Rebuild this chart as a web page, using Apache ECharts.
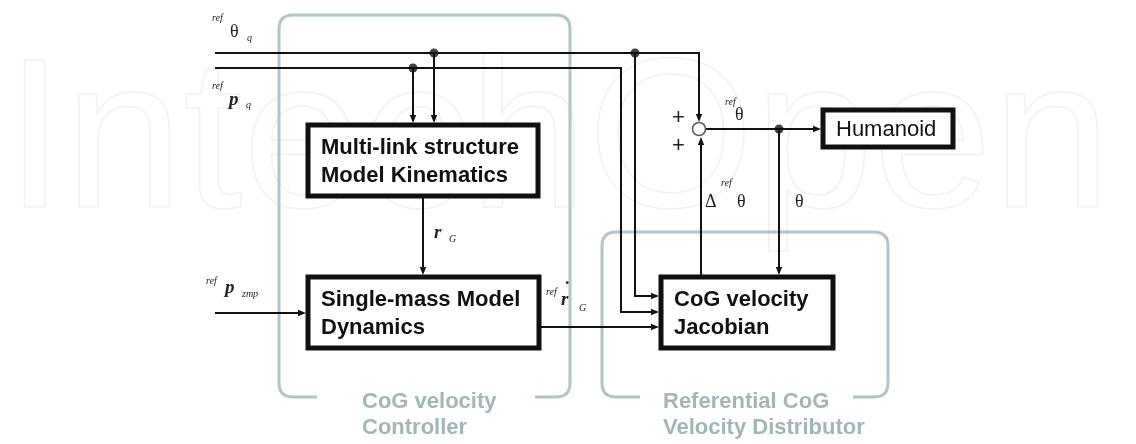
<!DOCTYPE html>
<html><head><meta charset="utf-8">
<script src="https://cdn.jsdelivr.net/npm/echarts@6.0.0/dist/echarts.min.js"></script>
<style>html,body{margin:0;padding:0;background:#fff}#c{width:1136px;height:444px}</style>
</head><body><div id="c"></div>
<script>
// ---------- diagram data (diagram coordinates, y grows downward) ----------
const blockLabels = ['Multi-link structure\nModel Kinematics', 'Single-mass Model\nDynamics', 'CoG velocity\nJacobian', 'Humanoid'];
const blockLeft   = [308, 308, 661, 823];
const blockTop    = [125, 277, 277, 110];
const blockRight  = [538, 539, 833, 953];
const blockBottom = [196, 348, 348, 147];

const frameTitles = ['CoG velocity\nController', 'Referential CoG\nVelocity Distributor'];
const frameLeft   = [279, 602];
const frameTop    = [15, 232];
const frameRight  = [570, 888];
const frameBottom = [397, 397];
const frameGapStart = [317, 640];
const frameGapEnd   = [535, 853];
const frameTitleX   = [362, 663];

// wires: polylines ending in an arrow head
const wirePaths = [
  [[215, 53], [699, 53], [699, 122]],            // ref theta_q -> summing point
  [[215, 68], [621, 68], [621, 312], [659, 312]],// ref p_q -> Jacobian
  [[434, 53], [434, 123]],                       // ref theta_q -> Kinematics
  [[413, 68], [413, 123]],                       // ref p_q -> Kinematics
  [[635, 53], [635, 296], [659, 296]],           // ref theta_q -> Jacobian
  [[215, 313], [306, 313]],                      // ref p_zmp -> Dynamics
  [[423, 198], [423, 275]],                      // r_G
  [[541, 327], [659, 327]],                      // ref r_G dot -> Jacobian
  [[701, 275], [701, 137]],                      // delta ref theta -> summing point
  [[706, 129], [821, 129]],                      // ref theta -> Humanoid
  [[779, 129], [779, 275]]                       // theta -> Jacobian
];
const junctionPoints = [[434, 53], [413, 68], [635, 53], [779, 129]];
const summingPoints  = [[699, 129]];

// math labels: [text, x, y, kind]
const labelPieces = [
  ['ref', 212, 18, 'sup'], ['θ', 230, 32, 'greek'], ['q', 247, 38, 'sub'],
  ['ref', 212, 86, 'sup'], ['p', 229, 100, 'var'], ['q', 246, 105, 'sub'],
  ['ref', 206, 281, 'sup'], ['p', 225, 288, 'var'], ['zmp', 242, 294, 'sub'],
  ['r', 434, 233, 'var'], ['G', 449, 239, 'sub'],
  ['ref', 546, 292, 'sup'], ['r', 561, 300, 'var'], ['˙', 563, 290, 'var'], ['G', 579, 308, 'sub'],
  ['ref', 725, 102, 'sup'], ['θ', 735, 115, 'greek'],
  ['Δ', 705, 202, 'greek'], ['ref', 721, 183, 'sup'], ['θ', 737, 202, 'greek'],
  ['θ', 795, 202, 'greek'],
  ['+', 672, 118, 'plus'], ['+', 672, 146, 'plus']
];

// ---------- styles ----------
const INK = '#111';
const FRAME = '#b3c5c6';
const FRAME_TEXT = '#a2b6ba';
const pieceFont = {
  sup:   'italic 10px "Liberation Serif", serif',
  sub:   'italic 10px "Liberation Serif", serif',
  greek: '18px "Liberation Serif", serif',
  var:   'italic bold 19px "Liberation Serif", serif',
  plus:  '22px "Liberation Sans", Arial, sans-serif'
};
const regularBlocks = ['Humanoid'];

const chart = echarts.init(document.getElementById('c'), null, {renderer: 'canvas'});

const option = {
  animation: false,
  backgroundColor: '#fff',
  grid: {left: 0, right: 0, top: 0, bottom: 0},
  xAxis: {type: 'value', min: 0, max: 1136, show: false},
  yAxis: {type: 'value', min: 0, max: 444, inverse: true, show: false},
  graphic: [{
    type: 'text', left: 4, top: 40, silent: true, z: -10,
    style: {text: 'IntechOpen', font: '214px "Liberation Sans", Arial, sans-serif',
            fill: 'rgba(0,0,0,0)', stroke: '#f1f1f1', lineWidth: 1.5}
  }],
  series: [
    { // grey group frames
      type: 'custom', coordinateSystem: 'cartesian2d', silent: true, clip: false, z: 1,
      data: frameTitles.map((_, i) => [i]),
      renderItem(params, api) {
        const i = params.dataIndex;
        const [l, t] = api.coord([frameLeft[i], frameTop[i]]);
        const [r, b] = api.coord([frameRight[i], frameBottom[i]]);
        const gl = api.coord([frameGapStart[i], frameBottom[i]])[0];
        const gr = api.coord([frameGapEnd[i], frameBottom[i]])[0];
        const tx = api.coord([frameTitleX[i], frameBottom[i]])[0];
        const R = 14;
        const d = `M${gl} ${b} L${l + R} ${b} Q${l} ${b} ${l} ${b - R} L${l} ${t + R} Q${l} ${t} ${l + R} ${t} ` +
                  `L${r - R} ${t} Q${r} ${t} ${r} ${t + R} L${r} ${b - R} Q${r} ${b} ${r - R} ${b} L${gr} ${b}`;
        return {type: 'group', children: [
          {type: 'path', shape: {pathData: d}, style: {stroke: FRAME, lineWidth: 3, fill: null}},
          {type: 'text', style: {text: frameTitles[i], x: tx, y: b - 8, align: 'left', verticalAlign: 'top',
            font: 'bold 22px "Liberation Sans", Arial, sans-serif', lineHeight: 26, fill: FRAME_TEXT}}
        ]};
      }
    },
    { // wires with arrows
      type: 'custom', coordinateSystem: 'cartesian2d', silent: true, clip: false, z: 3,
      data: wirePaths.map((_, i) => [i]),
      renderItem(params, api) {
        const pts = wirePaths[params.dataIndex].map(p => api.coord(p));
        const n = pts.length;
        const [x1, y1] = pts[n - 2], [x2, y2] = pts[n - 1];
        const len = Math.hypot(x2 - x1, y2 - y1), ux = (x2 - x1) / len, uy = (y2 - y1) / len;
        const L = 8, W = 3.2;
        const bx = x2 - ux * L, by = y2 - uy * L;
        const line = pts.slice(0, n - 1).concat([[bx + ux, by + uy]]);
        return {type: 'group', children: [
          {type: 'polyline', shape: {points: line}, style: {stroke: INK, lineWidth: 2, fill: null}},
          {type: 'polygon', shape: {points: [[x2, y2], [bx - uy * W, by + ux * W], [bx + uy * W, by - ux * W]]},
           style: {fill: INK}}
        ]};
      }
    },
    { // function blocks
      type: 'custom', coordinateSystem: 'cartesian2d', silent: true, clip: false, z: 4,
      data: blockLabels.map((_, i) => [i]),
      renderItem(params, api) {
        const i = params.dataIndex;
        const [l, t] = api.coord([blockLeft[i], blockTop[i]]);
        const [r, b] = api.coord([blockRight[i], blockBottom[i]]);
        const bold = regularBlocks.indexOf(blockLabels[i]) < 0;
        return {type: 'group', children: [
          {type: 'rect', shape: {x: l, y: t, width: r - l, height: b - t},
           style: {fill: '#fff', stroke: INK, lineWidth: 5}},
          {type: 'text', style: {text: blockLabels[i], x: l + 13, y: (t + b) / 2 + 1, align: 'left', verticalAlign: 'middle',
            font: (bold ? 'bold ' : '') + '22px "Liberation Sans", Arial, sans-serif', lineHeight: 28, fill: INK}}
        ]};
      }
    },
    {
      type: 'scatter', silent: true, z: 5, symbol: 'circle', symbolSize: 9,
      itemStyle: {color: INK}, data: junctionPoints
    },
    {
      type: 'scatter', silent: true, z: 5, symbol: 'circle', symbolSize: 13,
      itemStyle: {color: '#fff', borderColor: '#333', borderWidth: 1.6}, data: summingPoints
    },
    { // math labels
      type: 'custom', coordinateSystem: 'cartesian2d', silent: true, clip: false, z: 6,
      data: labelPieces.map((_, i) => [i]),
      renderItem(params, api) {
        const [txt, x, y, kind] = labelPieces[params.dataIndex];
        const [px, py] = api.coord([x, y]);
        return {type: 'text', style: {text: txt, x: px, y: py, align: 'left', verticalAlign: 'middle',
          font: pieceFont[kind], fill: '#222'}};
      }
    }
  ]
};
chart.setOption(option);
</script>
</body></html>
